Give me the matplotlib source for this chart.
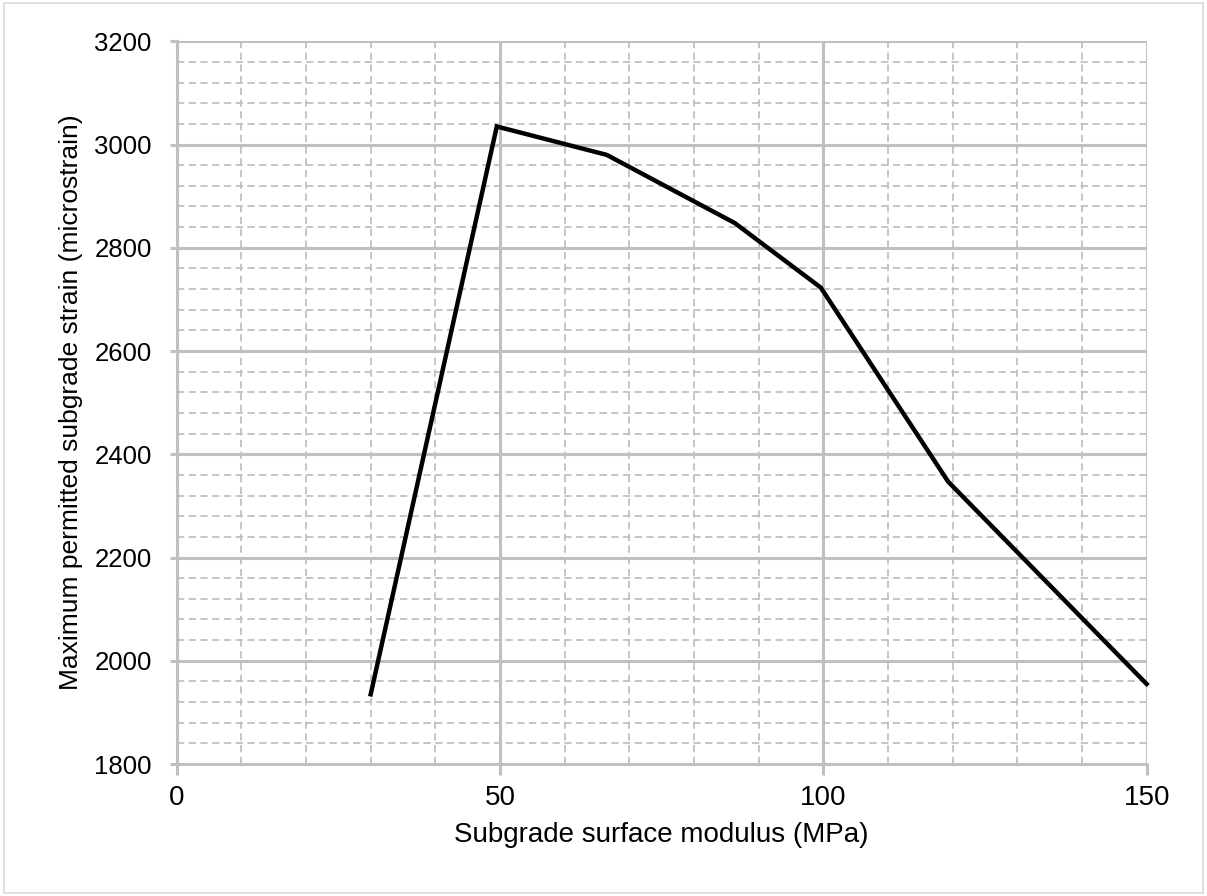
import matplotlib
matplotlib.use("Agg")
import matplotlib.pyplot as plt
from matplotlib.patches import Rectangle
from matplotlib.ticker import MultipleLocator

# Data
modulus_mpa = [30, 49.5, 66.5, 86.3, 99.6, 119.3, 150]
max_strain = [1935, 3035, 2980, 2848, 2723, 2347, 1955]

x_label = "Subgrade surface modulus (MPa)"
y_label = "Maximum permitted subgrade strain (microstrain)"

plt.rcParams['font.family'] = ['Liberation Sans', 'DejaVu Sans']

fig = plt.figure(figsize=(12.07, 8.96), dpi=100)
ax = fig.add_axes([0.1464, 0.1473, 0.950 - 0.1464, 0.9539 - 0.1473])

grid_col = "#c0c0c0"
ax.set_xlim(0, 150)
ax.set_ylim(1800, 3200)
ax.xaxis.set_major_locator(MultipleLocator(50))
ax.xaxis.set_minor_locator(MultipleLocator(10))
ax.yaxis.set_major_locator(MultipleLocator(200))
ax.yaxis.set_minor_locator(MultipleLocator(40))

ax.grid(which='major', color=grid_col, linewidth=2.2, linestyle='-', zorder=1)
ax.grid(which='minor', color=grid_col, linewidth=1.3, linestyle=(0, (4, 2.5)), zorder=0)
ax.set_axisbelow(True)

for s in ['top', 'right']:
    ax.spines[s].set_visible(False)
for s in ['left', 'bottom']:
    ax.spines[s].set_color(grid_col)
    ax.spines[s].set_linewidth(2.2)

ax.tick_params(which='major', width=2.2, color=grid_col, labelcolor='black')
ax.tick_params(axis='x', which='major', length=8, pad=7, labelsize=20)
ax.tick_params(axis='y', which='major', length=5, pad=13, labelsize=18.5)
ax.tick_params(which='minor', length=0)

ax.plot(modulus_mpa, max_strain, color='black', linewidth=3.2, zorder=3,
        solid_joinstyle='miter', clip_on=False)

ax.set_xlabel(x_label, fontsize=20, labelpad=8)
ax.set_ylabel(y_label, fontsize=19, labelpad=8)

fig.patches.append(Rectangle((0.003, 0.003), 0.994, 0.994, transform=fig.transFigure,
                             fill=False, edgecolor='#d9d9d9', linewidth=1.2))

fig.savefig("out.png", dpi=100)
